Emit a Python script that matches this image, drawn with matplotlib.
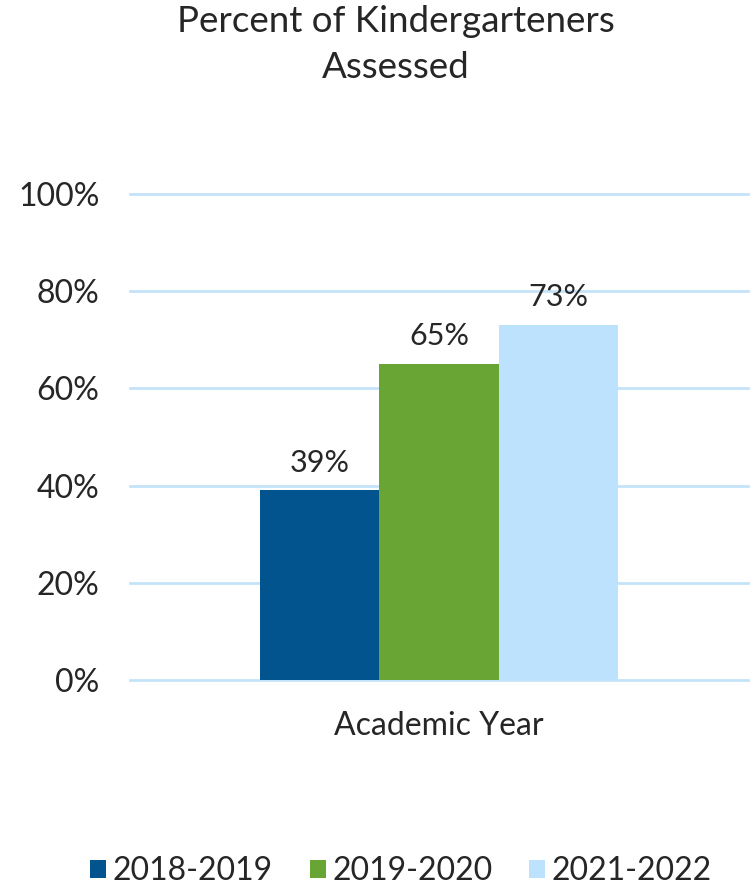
import numpy as np
import matplotlib.pyplot as plt

plt.rcParams['font.family'] = ['Lato', 'DejaVu Sans']

# ── Data ──────────────────────────────────────────────────────
years = ['2018-2019', '2019-2020', '2021-2022']
percents = [39, 65, 73]
colors = ['#02548F', '#68A535', '#BDE2FD']
category = 'Academic Year'
yticks = [0, 20, 40, 60, 80, 100]

TEXT = '#262626'
GRID = '#C5E3F8'

fig = plt.figure(figsize=(7.56, 8.85), dpi=100)
ax = fig.add_axes([130 / 756, 1 - 680 / 885, 618 / 756, (680 - 194) / 885])

width = 119.5 / 618
offsets = (np.arange(len(years)) - 1) * width
for off, val, col, lab in zip(offsets, percents, colors, years):
    ax.bar(off, val, width=width, color=col, label=lab, zorder=3)
    ax.annotate(f'{val}%', xy=(off, val), xytext=(0, 10), textcoords='offset points',
                ha='center', va='bottom', fontsize=22, color=TEXT)

ax.set_xlim(-0.5, 0.5)
ax.set_ylim(0, 100)
ax.set_yticks(yticks)
ax.set_yticklabels([f'{t}%' for t in yticks])
ax.set_xticks([0])
ax.set_xticklabels([category])
ax.tick_params(axis='y', length=0, pad=22, labelsize=23, labelcolor=TEXT)
ax.tick_params(axis='x', length=0, pad=22, labelsize=23, labelcolor=TEXT)
ax.yaxis.grid(True, color=GRID, linewidth=2, zorder=0)
for gl in ax.yaxis.get_gridlines():
    gl.set_clip_on(False)
for s in ax.spines.values():
    s.set_visible(False)
ax.set_axisbelow(True)

fig.text(396 / 756, 1 - 5 / 885, 'Percent of Kindergarteners\nAssessed',
         ha='center', va='top', fontsize=26.5, color=TEXT, linespacing=1.5)

fig.legend(loc='lower center', bbox_to_anchor=(401 / 756, -0.034), ncol=3,
           frameon=False, fontsize=23, handlelength=0.5, handleheight=0.5,
           handletextpad=0.2, columnspacing=1.15, labelcolor=TEXT)

fig.savefig('out.png', dpi=100)
